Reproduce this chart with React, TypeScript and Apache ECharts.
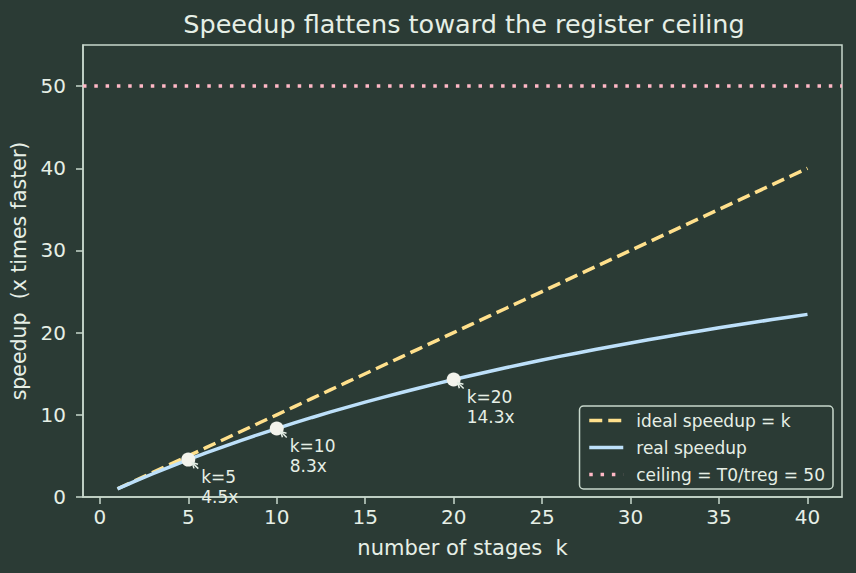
import React, { useEffect, useRef } from "react";
import * as echarts from "echarts";

const K = [1, 2, 3, 4, 5, 6, 7, 8, 9, 10, 11, 12, 13, 14, 15, 16, 17, 18, 19, 20, 21, 22, 23, 24, 25, 26, 27, 28, 29, 30, 31, 32, 33, 34, 35, 36, 37, 38, 39, 40];
const IDEAL = [1, 2, 3, 4, 5, 6, 7, 8, 9, 10, 11, 12, 13, 14, 15, 16, 17, 18, 19, 20, 21, 22, 23, 24, 25, 26, 27, 28, 29, 30, 31, 32, 33, 34, 35, 36, 37, 38, 39, 40];
const REAL = [0.98, 1.92, 2.83, 3.7, 4.55, 5.36, 6.14, 6.9, 7.63, 8.33, 9.02, 9.68, 10.32, 10.94, 11.54, 12.12, 12.69, 13.24, 13.77, 14.29, 14.79, 15.28, 15.75, 16.22, 16.67, 17.11, 17.53, 17.95, 18.35, 18.75, 19.14, 19.51, 19.88, 20.24, 20.59, 20.93, 21.26, 21.59, 21.91, 22.22];
const CEILING = 50;
const X_TICKS = [0, 5, 10, 15, 20, 25, 30, 35, 40];
const Y_TICKS = [0, 10, 20, 30, 40, 50];
const NOTE_K = [5, 10, 20];
const NOTE_LABEL = ["4.5x", "8.3x", "14.3x"];

const BG = "#2b3b35";
const FG = "#e6efe6";
const SPINE = "#c8d8cc";
const C_IDEAL = "#ffe08c";
const C_REAL = "#bde0fa";
const C_CEIL = "#ffb8c6";
const FONT = "DejaVu Sans";

export default function App() {
  const ref = useRef<HTMLDivElement>(null);
  useEffect(() => {
    if (!ref.current) return;
    const chart = echarts.init(ref.current, undefined, { renderer: "svg" });
    const noteData = NOTE_K.map((k) => [k, REAL[K.indexOf(k)]]);
    chart.setOption({
      animation: false,
      backgroundColor: BG,
      textStyle: { fontFamily: FONT, color: FG },
      title: {
        text: "Speedup flattens toward the register ceiling",
        left: 459,
        textAlign: "center",
        top: 6,
        textStyle: { fontFamily: FONT, fontSize: 25.5, fontWeight: "normal", color: FG },
      },
      grid: {
        left: 83,
        right: 14,
        top: 45,
        bottom: 76,
        show: true,
        borderColor: SPINE,
        borderWidth: 1.5,
        backgroundColor: "transparent",
      },
      legend: {
        orient: "vertical",
        right: 23,
        bottom: 84,
        data: ["ideal speedup = k", "real speedup", "ceiling = T0/treg = 50"],
        itemWidth: 34,
        itemHeight: 14,
        itemGap: 10,
        padding: [6, 8, 6, 8],
        backgroundColor: BG,
        borderColor: SPINE,
        borderWidth: 1.5,
        borderRadius: 4,
        itemStyle: { opacity: 0 },
        lineStyle: { width: 3.5 },
        textStyle: { fontFamily: FONT, fontSize: 17, color: FG, padding: [0, 0, 0, 8] },
      },
      xAxis: {
        type: "value",
        min: -0.95,
        max: 41.95,
        name: "number of stages  k",
        nameLocation: "middle",
        nameGap: 40,
        nameTextStyle: { fontFamily: FONT, fontSize: 21, color: FG },
        axisLine: { show: true, onZero: false, lineStyle: { color: SPINE, width: 1.5 } },
        axisTick: { show: true, length: 7, lineStyle: { color: SPINE, width: 1.5 }, customValues: X_TICKS },
        axisLabel: { fontFamily: FONT, fontSize: 20, color: FG, margin: 10, customValues: X_TICKS },
        splitLine: { show: false },
      },
      yAxis: {
        type: "value",
        min: 0,
        max: 55,
        name: "speedup  (x times faster)",
        nameLocation: "middle",
        nameGap: 50,
        nameTextStyle: { fontFamily: FONT, fontSize: 20.5, color: FG },
        axisLine: { show: true, onZero: false, lineStyle: { color: SPINE, width: 1.5 } },
        axisTick: { show: true, length: 7, lineStyle: { color: SPINE, width: 1.5 }, customValues: Y_TICKS },
        axisLabel: { fontFamily: FONT, fontSize: 20, color: FG, margin: 17, customValues: Y_TICKS },
        splitLine: { show: false },
      },
      series: [
        {
          name: "ideal speedup = k",
          type: "line",
          data: K.map((k, i) => [k, IDEAL[i]]),
          symbol: "none",
          color: C_IDEAL,
          lineStyle: { color: C_IDEAL, width: 3.5, type: [13, 6] },
          itemStyle: { color: C_IDEAL },
          z: 3,
        },
        {
          name: "real speedup",
          type: "line",
          data: K.map((k, i) => [k, REAL[i]]),
          symbol: "none",
          color: C_REAL,
          lineStyle: { color: C_REAL, width: 3.5 },
          itemStyle: { color: C_REAL },
          z: 4,
        },
        {
          name: "ceiling = T0/treg = 50",
          type: "line",
          data: [],
          symbol: "none",
          color: C_CEIL,
          lineStyle: { color: C_CEIL, width: 3.5, type: [3.5, 7.8] },
          itemStyle: { color: C_CEIL },
          markLine: {
            silent: true,
            symbol: "none",
            label: { show: false },
            lineStyle: { color: C_CEIL, width: 3.5, type: [3.5, 7.8] },
            data: [{ yAxis: CEILING, lineStyle: { color: C_CEIL, width: 3.5, type: [3.5, 7.8] } }],
          },
          z: 2,
        },
        {
          name: "highlights",
          type: "scatter",
          data: noteData,
          symbol: "circle",
          symbolSize: 14,
          itemStyle: { color: "#f3f3ec", opacity: 1 },
          z: 6,
        },
        {
          name: "notes",
          type: "custom",
          data: noteData,
          z: 7,
          renderItem: (params: any, api: any) => {
            const i = params.dataIndex;
            const p = api.coord([api.value(0), api.value(1)]);
            const tx = p[0] + 10, ty = p[1] + 9;
            const hx = p[0] + 4, hy = p[1] + 3;
            const dx = hx - tx, dy = hy - ty;
            const len = Math.sqrt(dx * dx + dy * dy);
            const ux = dx / len, uy = dy / len;
            const ah = 6, ang = 0.5;
            const a1x = hx - ah * (ux * Math.cos(ang) - uy * Math.sin(ang));
            const a1y = hy - ah * (uy * Math.cos(ang) + ux * Math.sin(ang));
            const a2x = hx - ah * (ux * Math.cos(-ang) - uy * Math.sin(-ang));
            const a2y = hy - ah * (uy * Math.cos(-ang) + ux * Math.sin(-ang));
            return {
              type: "group",
              children: [
                {
                  type: "line",
                  shape: { x1: tx, y1: ty, x2: hx, y2: hy },
                  style: { stroke: FG, lineWidth: 1.5 },
                },
                {
                  type: "polyline",
                  shape: { points: [[a1x, a1y], [hx, hy], [a2x, a2y]] },
                  style: { stroke: FG, lineWidth: 1.5, fill: null },
                },
                {
                  type: "text",
                  x: p[0] + 13,
                  y: p[1] + 7,
                  style: {
                    text: `k=${NOTE_K[i]}\n${NOTE_LABEL[i]}`,
                    fontFamily: FONT,
                    fontSize: 17,
                    lineHeight: 20,
                    fill: FG,
                    align: "left",
                    verticalAlign: "top",
                  },
                },
              ],
            };
          },
        },
      ],
    });
    return () => chart.dispose();
  }, []);
  return <div ref={ref} style={{ width: 856, height: 573, position: "absolute", left: 0, top: 0 }} />;
}
